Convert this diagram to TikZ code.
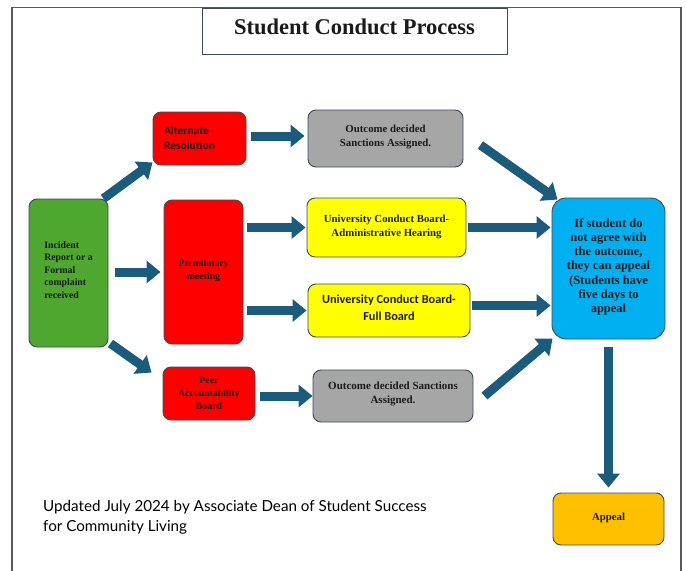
\documentclass[tikz,border=0pt]{standalone}
\usepackage{fontspec}
\setmainfont{Liberation Serif}
\newfontfamily\calib{Carlito}
\newfontfamily\latof{Lato}
\usetikzlibrary{arrows.meta}
\definecolor{arrowc}{HTML}{1B5C7C}
\definecolor{boxline}{HTML}{3A4A58}
\definecolor{gfill}{HTML}{4EA72E}
\definecolor{rfill}{HTML}{FF0000}
\definecolor{grfill}{HTML}{A6A6A6}
\definecolor{yfill}{HTML}{FFFF00}
\definecolor{bfill}{HTML}{00B0F0}
\definecolor{ofill}{HTML}{FFC000}
\definecolor{txt}{HTML}{1A1A1A}
\tikzset{
  box/.style={draw=boxline, line width=0.9pt, rounded corners=8pt, inner sep=0pt,
    align=center, text=txt, font=\bfseries},
  bigarrow/.style={draw=arrowc, line width=9pt, -{Triangle[width=22pt,length=14pt]}},
}
\begin{document}
\begin{tikzpicture}[x=1pt,y=-1pt]
\useasboundingbox (0,0) rectangle (687,570);
% frame
\draw[draw=gray!70!black, line width=1.8pt] (12,575) -- (12,7.5) -- (681,7.5) -- (681,575);
% title
\node[draw=boxline, line width=0.9pt, minimum width=305pt, minimum height=46pt, inner sep=0pt,
  align=center, font=\fontsize{22.5}{26}\selectfont\bfseries, text=txt] (title) at (354.5,31)
  {Student Conduct Process\\[-18pt]};
% boxes
\node[box, fill=gfill, minimum width=79pt, minimum height=148pt, align=left,
  font=\fontsize{9.8}{12.5}\selectfont\bfseries] (green) at (68.5,273)
  {Incident\\Report or a\\Formal\\complaint\\received\\[-6.5pt]};
\node[box, fill=rfill, minimum width=93pt, minimum height=53pt, text width=71pt, align=left,
  font=\calib\fontsize{11.5}{15}\selectfont\bfseries] (alt) at (199.5,138.5)
  {Alternate\\Resolution\\[8pt]};
\node[box, fill=rfill, minimum width=79pt, minimum height=144pt,
  font=\fontsize{9.8}{13}\selectfont\bfseries] (prelim) at (203.5,272)
  {Premliinary\\meeting\\[-9pt]};
\node[box, fill=rfill, minimum width=92pt, minimum height=53pt,
  font=\fontsize{9.8}{13}\selectfont\bfseries] (peer) at (209,393.5)
  {Peer\\Accountability\\Board};
\node[box, fill=grfill, minimum width=155pt, minimum height=57pt,
  font=\fontsize{10.8}{14}\selectfont\bfseries] (out1) at (385.5,138.5)
  {Outcome decided\\Sanctions Assigned.\\[-8pt]};
\node[box, fill=yfill, minimum width=159pt, minimum height=59pt,
  font=\fontsize{10.8}{14}\selectfont\bfseries] (admin) at (386.5,227.5)
  {University Conduct Board-\\Administrative Hearing\\[-10pt]};
\node[box, fill=yfill, minimum width=162pt, minimum height=53pt,
  font=\calib\fontsize{12.3}{17}\selectfont\bfseries] (full) at (389,310.5)
  {University Conduct Board-\\Full Board\\[-12pt]};
\node[box, fill=grfill, minimum width=160pt, minimum height=52pt,
  font=\fontsize{11}{14}\selectfont\bfseries] (out2) at (393,396)
  {Outcome decided Sanctions\\Assigned.\\[-8pt]};
\node[box, fill=bfill, minimum width=113pt, minimum height=141pt, rounded corners=14pt,
  font=\fontsize{12.5}{14.2}\selectfont\bfseries] (blue) at (608.5,268.5)
  {If student do\\not agree with\\the outcome,\\they can appeal\\(Students have\\five days to\\appeal\\[-8.2pt]};
\node[box, fill=ofill, minimum width=111pt, minimum height=52pt,
  font=\fontsize{10.8}{13}\selectfont\bfseries] (appeal) at (608.5,519)
  {Appeal\\[-9pt]};
% footer
\node[anchor=north west, align=left, inner sep=0pt, text=black,
  font=\latof\fontsize{15.2}{20}\selectfont] (foot) at (43,500)
  {Updated July 2024 by Associate Dean of Student Success\\for Community Living};
% arrows
\draw[bigarrow] ([xshift=-5pt]green.north east) -- ([yshift=3pt]alt.south west);
\draw[bigarrow, shorten <=7pt, shorten >=3pt] (green.east |- prelim.west) -- (prelim.west);
\draw[bigarrow] ([xshift=2pt,yshift=4pt]green.south east) -- ([xshift=-11pt,yshift=-6pt]peer.north west);
\draw[bigarrow, shorten <=5pt, shorten >=3pt] ([yshift=2.5pt]alt.east) -- ([yshift=2.5pt]alt.east -| out1.west);
\draw[bigarrow, shorten <=4pt, shorten >=1pt] (prelim.east |- admin.west) -- (admin.west);
\draw[bigarrow, shorten <=4pt, shorten >=1pt] (prelim.east |- full.west) -- (full.west);
\draw[bigarrow, shorten <=5pt] (out2.west -| peer.east) -- (out2.west);
\draw[bigarrow, shorten <=2pt, shorten >=1pt] (admin.east) -- (admin.east -| blue.west);
\draw[bigarrow, shorten <=2pt, shorten >=1pt] ([yshift=5pt]full.east) -- ([yshift=5pt]full.east -| blue.west);
\draw[bigarrow] ([xshift=17pt,yshift=-6.5pt]out1.east) -- ([xshift=6pt,yshift=-2pt]blue.north west);
\draw[bigarrow] ([xshift=11pt]out2.east) -- ([xshift=1pt,yshift=1pt]blue.south west);
\draw[bigarrow, shorten <=8pt, shorten >=5pt] (blue.south) -- (appeal.north);
\end{tikzpicture}
\end{document}
